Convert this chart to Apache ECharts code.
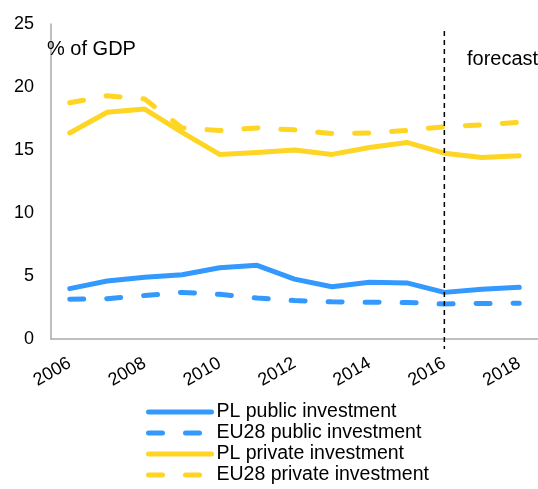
<!DOCTYPE html>
<html>
<head>
<meta charset="utf-8">
<script src="https://cdn.jsdelivr.net/npm/echarts@6/dist/echarts.min.js"></script>
<style>html,body{margin:0;padding:0;background:#fff}#c{width:538px;height:489px}</style>
</head>
<body>
<div id="c"></div>
<script>
var years = ['2006','2007','2008','2009','2010','2011','2012','2013','2014','2015','2016','2017','2018'];
var plPublic   = [4.0, 4.6, 4.9, 5.1, 5.65, 5.85, 4.75, 4.15, 4.5, 4.45, 3.7, 3.95, 4.1];
var eu28Public = [3.15, 3.2, 3.45, 3.7, 3.55, 3.25, 3.05, 2.95, 2.92, 2.9, 2.78, 2.82, 2.84];
var plPrivate  = [16.35, 18.0, 18.25, 16.4, 14.65, 14.8, 15.0, 14.65, 15.2, 15.6, 14.75, 14.4, 14.55];
var eu28Private= [18.75, 19.3, 19.05, 16.75, 16.55, 16.75, 16.6, 16.3, 16.35, 16.55, 16.85, 17.0, 17.2];
var seriesNames = ['PL public investment','EU28 public investment','PL private investment','EU28 private investment'];
var forecastYear = '2016';
var yTicks = {min:0, max:25, interval:5};

var BLUE = '#3399ff', YELLOW = '#ffd524';
var FONT = 'Liberation Sans, Arial, sans-serif';
var chart = echarts.init(document.getElementById('c'));
function mk(name, data, color, dashed) {
  return {
    name: name, type: 'line', data: data, symbol: 'none', smooth: false,
    lineStyle: {color: color, width: 5, type: dashed ? [14, 23] : 'solid', cap: 'round', join: 'round'},
    itemStyle: {color: color}
  };
}
chart.setOption({
  animation: false,
  grid: {left: 51, right: 0, top: 24, bottom: 150, containLabel: false},
  xAxis: {
    type: 'category', data: years, boundaryGap: true,
    axisLine: {lineStyle: {color: '#aaaaaa', width: 1.5}},
    axisTick: {show: false},
    axisLabel: {interval: 1, rotate: 30, color: '#000', fontSize: 18, fontFamily: FONT, margin: 23}
  },
  yAxis: {
    type: 'value', min: yTicks.min, max: yTicks.max, interval: yTicks.interval,
    axisLine: {show: true, lineStyle: {color: '#aaaaaa', width: 1.5}},
    axisTick: {show: false},
    splitLine: {show: false},
    axisLabel: {color: '#000', fontSize: 18, fontFamily: FONT, margin: 17}
  },
  legend: {
    orient: 'vertical', left: 146, top: 402, height: 100, padding: 0,
    itemWidth: 63, itemHeight: 14, itemGap: 1,
    itemStyle: {opacity: 0},
    lineStyle: {width: 5, cap: 'round'},
    textStyle: {fontSize: 19.5, lineHeight: 20, color: '#000', fontFamily: FONT, padding: [0,0,0,0]},
    data: seriesNames
  },
  series: [
    mk(seriesNames[0], plPublic, BLUE, false),
    mk(seriesNames[1], eu28Public, BLUE, true),
    mk(seriesNames[2], plPrivate, YELLOW, false),
    mk(seriesNames[3], eu28Private, YELLOW, true)
  ]
});
var xF = chart.convertToPixel({xAxisIndex: 0}, forecastYear);
var yTop = chart.convertToPixel({yAxisIndex: 0}, 24.2);
var yZero = chart.convertToPixel({yAxisIndex: 0}, 0);
chart.setOption({
  graphic: [
    {type: 'line', shape: {x1: xF, y1: yTop - 3, x2: xF, y2: yZero + 10},
     style: {stroke: '#000', lineWidth: 1.5, lineDash: [5, 4]}, z: 10},
    {type: 'text', left: 47, top: 39, style: {text: '% of GDP', fontSize: 20, fontFamily: FONT, fill: '#000'}, z: 10},
    {type: 'text', left: 467, top: 49, style: {text: 'forecast', fontSize: 20, fontFamily: FONT, fill: '#000'}, z: 10}
  ]
});
</script>
</body>
</html>
